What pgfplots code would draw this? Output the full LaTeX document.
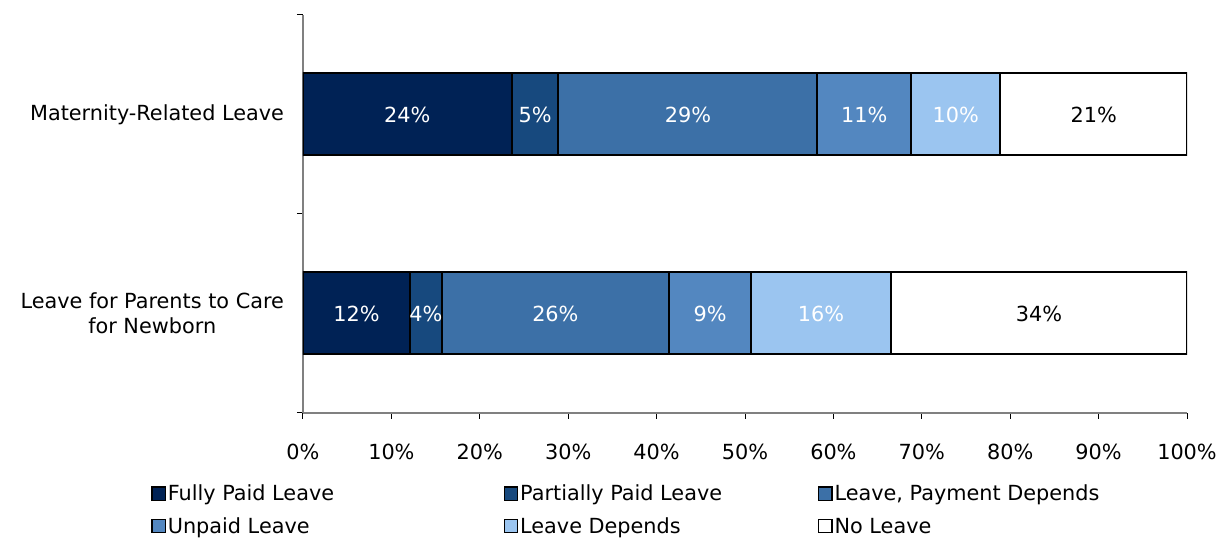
\documentclass[border=0pt]{standalone}
\usepackage{pgfplots}
\pgfplotsset{compat=1.18}
\usepackage{fontspec}
\setmainfont{DejaVu Sans}
\definecolor{c1}{HTML}{002255}
\definecolor{c2}{HTML}{17497E}
\definecolor{c3}{HTML}{3C70A7}
\definecolor{c4}{HTML}{5387C0}
\definecolor{c5}{HTML}{9BC5F0}
\definecolor{axgray}{HTML}{808080}
\newcommand{\fs}{\fontsize{10.4}{12.4}\selectfont}
\pgfplotsset{
  common/.style={
    width=442pt, height=199pt, scale only axis,
    xmin=0, xmax=100, ymin=-0.5, ymax=1.5,
  }
}
\begin{document}
\begin{tikzpicture}
\begin{axis}[
  common,
  xbar stacked,
  bar width=41pt,
  font=\fs,
  axis x line*=bottom, axis y line*=left,
  axis line style={axgray, line width=0.6pt},
  tick align=outside,
  major tick length=3pt,
  tick style={black, line width=0.5pt},
  xtick={0,10,...,100},
  xticklabels={0\%,10\%,20\%,30\%,40\%,50\%,60\%,70\%,80\%,90\%,100\%},
  xticklabel style={yshift=-9pt},
  ytick={-0.5,0.5,1.5},
  yticklabels={},
  extra y ticks={0,1},
  extra y tick labels={{Leave for Parents to Care\\for Newborn},{Maternity-Related Leave}},
  extra y tick style={major tick length=0pt, yticklabel style={align=center, xshift=-6pt}},
  legend columns=3,
  legend cell align=left,
  legend style={
    at={(axis description cs:0,0)}, anchor=north west,
    xshift=-79pt, yshift=-33pt,
    draw=none, fill=none, font=\fs,
    /tikz/row sep=6pt,
    /tikz/every odd column/.style={column sep=1pt},
    /tikz/every even column/.style={column sep=0pt},
    nodes={inner sep=0pt},
  },
  legend image code/.code={\draw[#1, line width=0.6pt] (0pt,-3.3pt) rectangle (6.6pt,3.3pt);},
]
\addplot[fill=c1, draw=black, line width=1pt] coordinates {(12.1,0) (23.6,1)};
\addplot[fill=c2, draw=black, line width=1pt] coordinates {(3.6,0) (5.3,1)};
\addplot[fill=c3, draw=black, line width=1pt] coordinates {(25.7,0) (29.3,1)};
\addplot[fill=c4, draw=black, line width=1pt] coordinates {(9.3,0) (10.6,1)};
\addplot[fill=c5, draw=black, line width=1pt] coordinates {(15.8,0) (10.1,1)};
\addplot[fill=white, draw=black, line width=1pt] coordinates {(33.5,0) (21.1,1)};
\legend{\makebox[168pt][l]{Fully Paid Leave\strut},\makebox[149pt][l]{Partially Paid Leave\strut},{Leave, Payment Depends\strut},\makebox[168pt][l]{Unpaid Leave\strut},\makebox[149pt][l]{Leave Depends\strut},No Leave\strut}
\end{axis}
\begin{axis}[
  common, hide axis,
  font=\fs,
  nodes near coords, point meta=explicit symbolic,
  every node near coord/.append style={anchor=center, font=\fs},
]
\addplot[only marks, mark=none, nodes near coords style={white}] coordinates {
  (11.8,1)[24\%] (26.25,1)[5\%] (43.55,1)[29\%] (63.5,1)[11\%] (73.85,1)[10\%]
  (6.05,0)[12\%] (13.9,0)[4\%] (28.55,0)[26\%] (46.05,0)[9\%] (58.6,0)[16\%]
};
\addplot[only marks, mark=none, nodes near coords style={black}] coordinates {
  (89.45,1)[21\%] (83.25,0)[34\%]
};
\end{axis}
\pgfresetboundingbox
\useasboundingbox (-151.5pt,-65.5pt) rectangle (459pt,206.5pt);
\end{tikzpicture}
\end{document}
